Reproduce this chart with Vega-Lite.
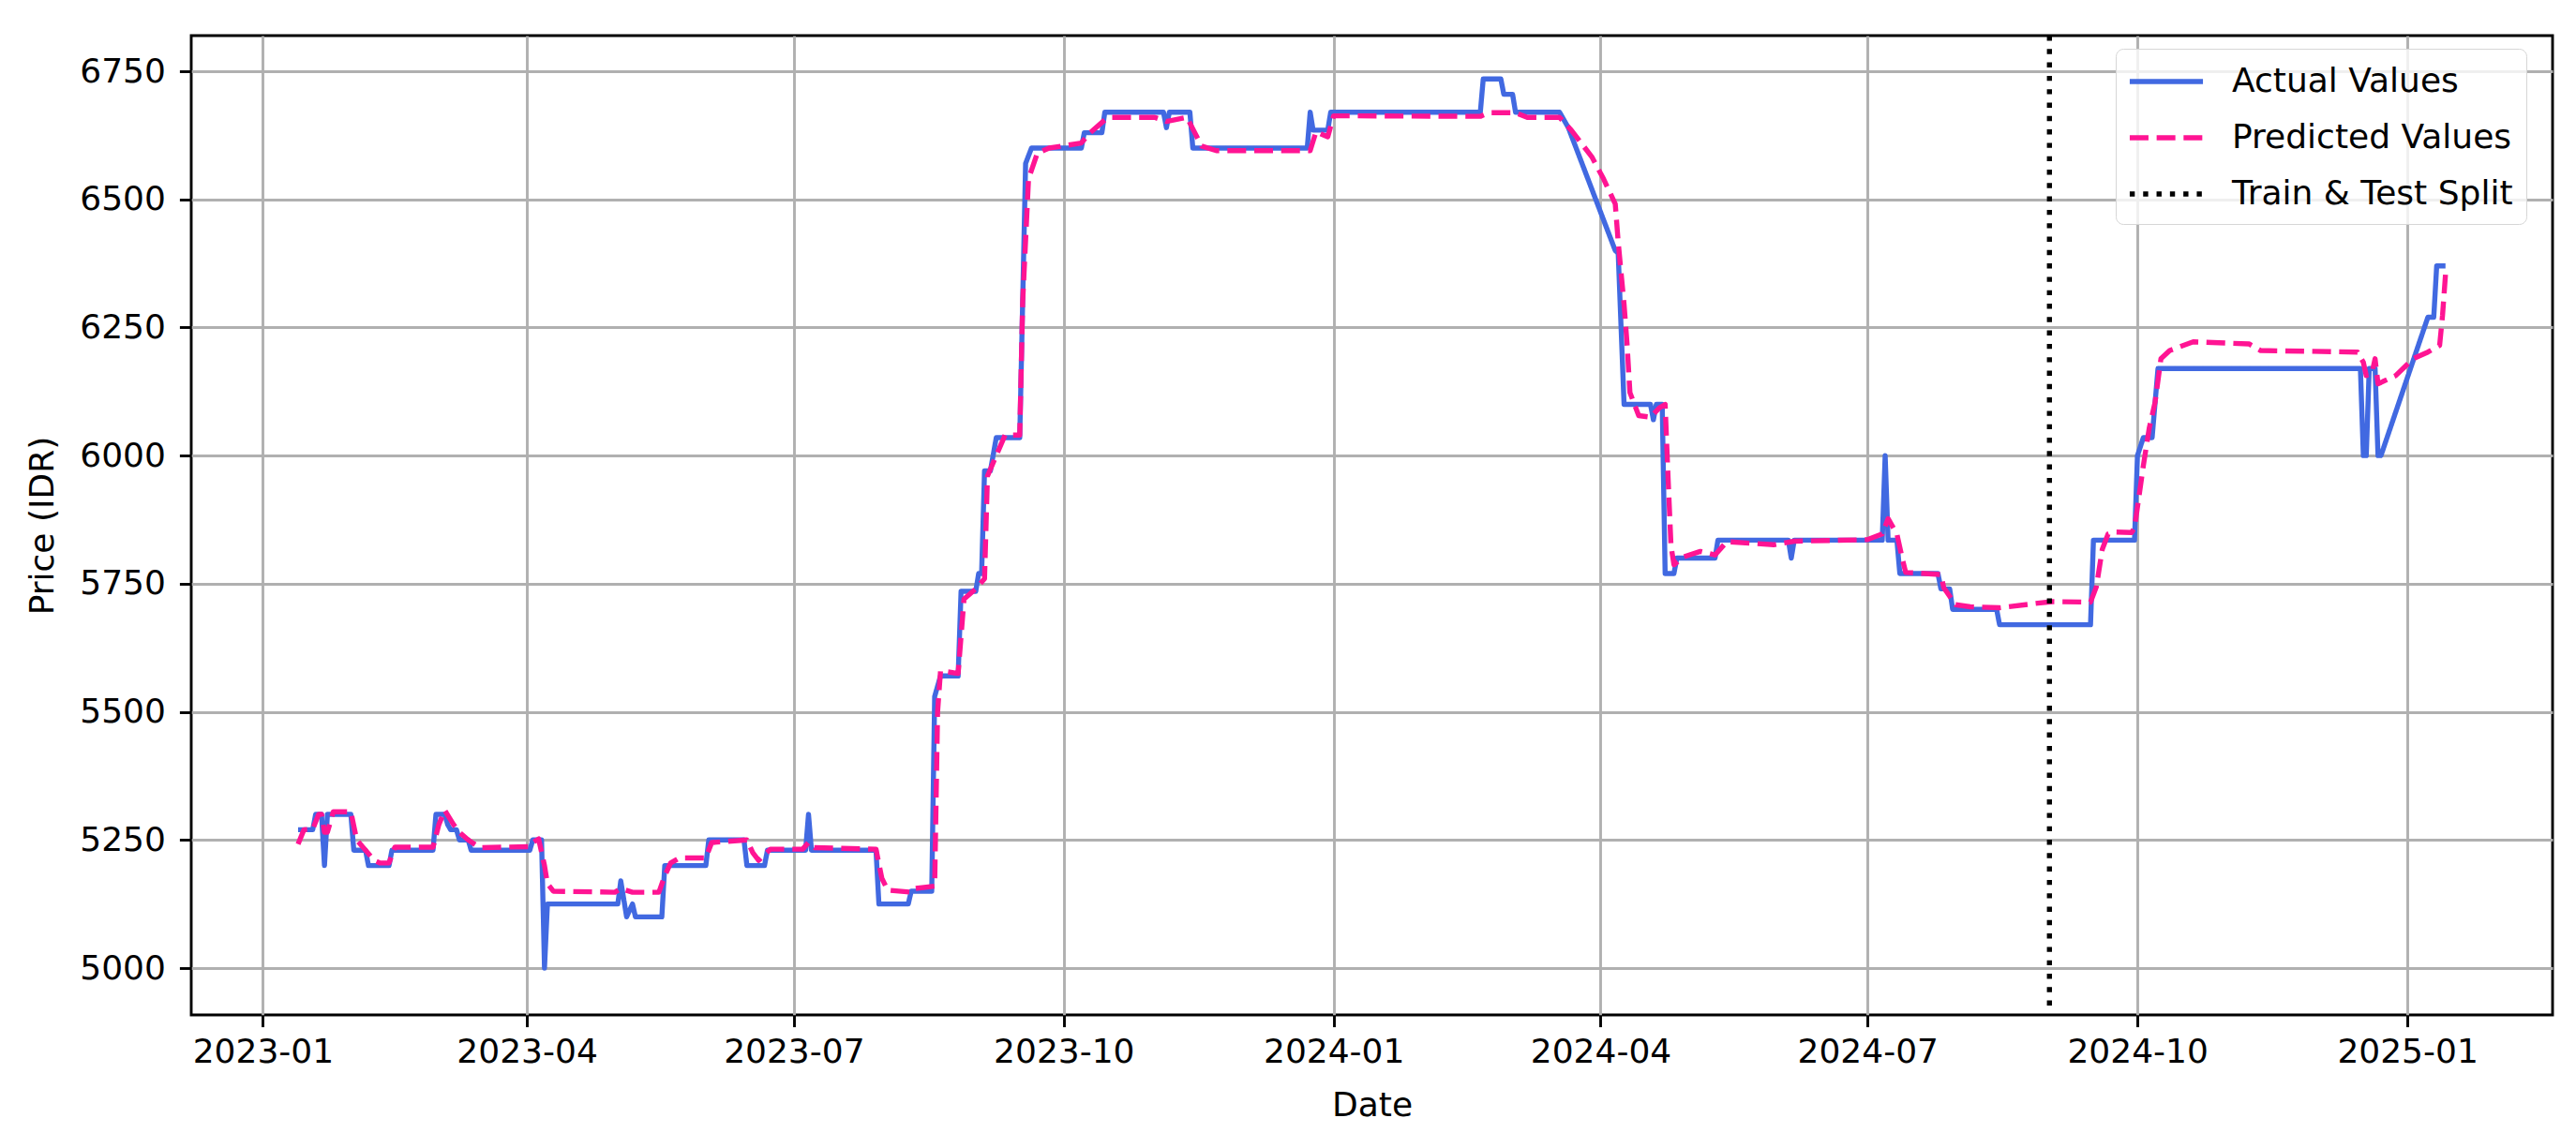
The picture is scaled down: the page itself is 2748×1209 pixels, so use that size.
{
  "$schema": "https://vega.github.io/schema/vega-lite/v6.json",
  "width": 2519,
  "height": 1045,
  "autosize": {"type": "none"},
  "padding": {"left": 204, "top": 38, "right": 25, "bottom": 126},
  "background": "white",
  "config": {
    "font": "DejaVu Sans",
    "view": {"stroke": "black", "strokeWidth": 2.9},
    "axis": {
      "labelFont": "DejaVu Sans", "titleFont": "DejaVu Sans",
      "labelFontSize": 36, "titleFontSize": 36, "titleFontWeight": "normal",
      "labelColor": "black", "titleColor": "black",
      "tickColor": "black", "tickSize": 12.6, "tickWidth": 2.9,
      "labelPadding": 10, "domain": false,
      "grid": true, "gridColor": "#b0b0b0", "gridWidth": 2.9, "gridOpacity": 1
    },
    "legend": {
      "labelFont": "DejaVu Sans", "labelFontSize": 36, "labelColor": "black", "labelLimit": 0
    }
  },
  "data": {"values": [
    {"date": "2023-01-13", "price": 5270, "series": "Actual Values"},
    {"date": "2023-01-18", "price": 5270, "series": "Actual Values"},
    {"date": "2023-01-19", "price": 5300, "series": "Actual Values"},
    {"date": "2023-01-21", "price": 5300, "series": "Actual Values"},
    {"date": "2023-01-22", "price": 5200, "series": "Actual Values"},
    {"date": "2023-01-23", "price": 5300, "series": "Actual Values"},
    {"date": "2023-01-31", "price": 5300, "series": "Actual Values"},
    {"date": "2023-02-01", "price": 5230, "series": "Actual Values"},
    {"date": "2023-02-05", "price": 5230, "series": "Actual Values"},
    {"date": "2023-02-06", "price": 5200, "series": "Actual Values"},
    {"date": "2023-02-13", "price": 5200, "series": "Actual Values"},
    {"date": "2023-02-14", "price": 5230, "series": "Actual Values"},
    {"date": "2023-02-28", "price": 5230, "series": "Actual Values"},
    {"date": "2023-03-01", "price": 5300, "series": "Actual Values"},
    {"date": "2023-03-04", "price": 5300, "series": "Actual Values"},
    {"date": "2023-03-05", "price": 5280, "series": "Actual Values"},
    {"date": "2023-03-06", "price": 5270, "series": "Actual Values"},
    {"date": "2023-03-08", "price": 5270, "series": "Actual Values"},
    {"date": "2023-03-09", "price": 5250, "series": "Actual Values"},
    {"date": "2023-03-12", "price": 5250, "series": "Actual Values"},
    {"date": "2023-03-13", "price": 5230, "series": "Actual Values"},
    {"date": "2023-04-02", "price": 5230, "series": "Actual Values"},
    {"date": "2023-04-03", "price": 5250, "series": "Actual Values"},
    {"date": "2023-04-06", "price": 5250, "series": "Actual Values"},
    {"date": "2023-04-07", "price": 5000, "series": "Actual Values"},
    {"date": "2023-04-08", "price": 5125, "series": "Actual Values"},
    {"date": "2023-05-02", "price": 5125, "series": "Actual Values"},
    {"date": "2023-05-03", "price": 5170, "series": "Actual Values"},
    {"date": "2023-05-05", "price": 5100, "series": "Actual Values"},
    {"date": "2023-05-07", "price": 5125, "series": "Actual Values"},
    {"date": "2023-05-08", "price": 5100, "series": "Actual Values"},
    {"date": "2023-05-17", "price": 5100, "series": "Actual Values"},
    {"date": "2023-05-18", "price": 5200, "series": "Actual Values"},
    {"date": "2023-06-01", "price": 5200, "series": "Actual Values"},
    {"date": "2023-06-02", "price": 5250, "series": "Actual Values"},
    {"date": "2023-06-14", "price": 5250, "series": "Actual Values"},
    {"date": "2023-06-15", "price": 5200, "series": "Actual Values"},
    {"date": "2023-06-21", "price": 5200, "series": "Actual Values"},
    {"date": "2023-06-22", "price": 5230, "series": "Actual Values"},
    {"date": "2023-07-05", "price": 5230, "series": "Actual Values"},
    {"date": "2023-07-06", "price": 5300, "series": "Actual Values"},
    {"date": "2023-07-07", "price": 5230, "series": "Actual Values"},
    {"date": "2023-07-29", "price": 5230, "series": "Actual Values"},
    {"date": "2023-07-30", "price": 5125, "series": "Actual Values"},
    {"date": "2023-08-09", "price": 5125, "series": "Actual Values"},
    {"date": "2023-08-10", "price": 5150, "series": "Actual Values"},
    {"date": "2023-08-17", "price": 5150, "series": "Actual Values"},
    {"date": "2023-08-18", "price": 5530, "series": "Actual Values"},
    {"date": "2023-08-20", "price": 5570, "series": "Actual Values"},
    {"date": "2023-08-26", "price": 5570, "series": "Actual Values"},
    {"date": "2023-08-27", "price": 5735, "series": "Actual Values"},
    {"date": "2023-09-01", "price": 5735, "series": "Actual Values"},
    {"date": "2023-09-02", "price": 5770, "series": "Actual Values"},
    {"date": "2023-09-03", "price": 5770, "series": "Actual Values"},
    {"date": "2023-09-04", "price": 5970, "series": "Actual Values"},
    {"date": "2023-09-06", "price": 5970, "series": "Actual Values"},
    {"date": "2023-09-08", "price": 6035, "series": "Actual Values"},
    {"date": "2023-09-16", "price": 6035, "series": "Actual Values"},
    {"date": "2023-09-17", "price": 6300, "series": "Actual Values"},
    {"date": "2023-09-18", "price": 6570, "series": "Actual Values"},
    {"date": "2023-09-20", "price": 6600, "series": "Actual Values"},
    {"date": "2023-10-07", "price": 6600, "series": "Actual Values"},
    {"date": "2023-10-08", "price": 6630, "series": "Actual Values"},
    {"date": "2023-10-14", "price": 6630, "series": "Actual Values"},
    {"date": "2023-10-15", "price": 6670, "series": "Actual Values"},
    {"date": "2023-11-04", "price": 6670, "series": "Actual Values"},
    {"date": "2023-11-05", "price": 6640, "series": "Actual Values"},
    {"date": "2023-11-06", "price": 6670, "series": "Actual Values"},
    {"date": "2023-11-13", "price": 6670, "series": "Actual Values"},
    {"date": "2023-11-14", "price": 6600, "series": "Actual Values"},
    {"date": "2023-12-23", "price": 6600, "series": "Actual Values"},
    {"date": "2023-12-24", "price": 6670, "series": "Actual Values"},
    {"date": "2023-12-25", "price": 6635, "series": "Actual Values"},
    {"date": "2023-12-30", "price": 6635, "series": "Actual Values"},
    {"date": "2023-12-31", "price": 6670, "series": "Actual Values"},
    {"date": "2024-02-20", "price": 6670, "series": "Actual Values"},
    {"date": "2024-02-21", "price": 6735, "series": "Actual Values"},
    {"date": "2024-02-27", "price": 6735, "series": "Actual Values"},
    {"date": "2024-02-28", "price": 6705, "series": "Actual Values"},
    {"date": "2024-03-02", "price": 6705, "series": "Actual Values"},
    {"date": "2024-03-03", "price": 6670, "series": "Actual Values"},
    {"date": "2024-03-18", "price": 6670, "series": "Actual Values"},
    {"date": "2024-03-21", "price": 6640, "series": "Actual Values"},
    {"date": "2024-04-06", "price": 6400, "series": "Actual Values"},
    {"date": "2024-04-07", "price": 6395, "series": "Actual Values"},
    {"date": "2024-04-09", "price": 6100, "series": "Actual Values"},
    {"date": "2024-04-18", "price": 6100, "series": "Actual Values"},
    {"date": "2024-04-19", "price": 6070, "series": "Actual Values"},
    {"date": "2024-04-20", "price": 6100, "series": "Actual Values"},
    {"date": "2024-04-22", "price": 6100, "series": "Actual Values"},
    {"date": "2024-04-23", "price": 5770, "series": "Actual Values"},
    {"date": "2024-04-26", "price": 5770, "series": "Actual Values"},
    {"date": "2024-04-27", "price": 5800, "series": "Actual Values"},
    {"date": "2024-05-10", "price": 5800, "series": "Actual Values"},
    {"date": "2024-05-11", "price": 5835, "series": "Actual Values"},
    {"date": "2024-06-04", "price": 5835, "series": "Actual Values"},
    {"date": "2024-06-05", "price": 5800, "series": "Actual Values"},
    {"date": "2024-06-06", "price": 5835, "series": "Actual Values"},
    {"date": "2024-07-06", "price": 5835, "series": "Actual Values"},
    {"date": "2024-07-07", "price": 6000, "series": "Actual Values"},
    {"date": "2024-07-08", "price": 5835, "series": "Actual Values"},
    {"date": "2024-07-11", "price": 5835, "series": "Actual Values"},
    {"date": "2024-07-12", "price": 5770, "series": "Actual Values"},
    {"date": "2024-07-25", "price": 5770, "series": "Actual Values"},
    {"date": "2024-07-26", "price": 5740, "series": "Actual Values"},
    {"date": "2024-07-29", "price": 5740, "series": "Actual Values"},
    {"date": "2024-07-30", "price": 5700, "series": "Actual Values"},
    {"date": "2024-08-14", "price": 5700, "series": "Actual Values"},
    {"date": "2024-08-15", "price": 5670, "series": "Actual Values"},
    {"date": "2024-09-15", "price": 5670, "series": "Actual Values"},
    {"date": "2024-09-16", "price": 5835, "series": "Actual Values"},
    {"date": "2024-09-30", "price": 5835, "series": "Actual Values"},
    {"date": "2024-10-01", "price": 6000, "series": "Actual Values"},
    {"date": "2024-10-03", "price": 6035, "series": "Actual Values"},
    {"date": "2024-10-06", "price": 6035, "series": "Actual Values"},
    {"date": "2024-10-08", "price": 6170, "series": "Actual Values"},
    {"date": "2024-12-16", "price": 6170, "series": "Actual Values"},
    {"date": "2024-12-17", "price": 6000, "series": "Actual Values"},
    {"date": "2024-12-18", "price": 6000, "series": "Actual Values"},
    {"date": "2024-12-19", "price": 6170, "series": "Actual Values"},
    {"date": "2024-12-21", "price": 6170, "series": "Actual Values"},
    {"date": "2024-12-22", "price": 6000, "series": "Actual Values"},
    {"date": "2024-12-23", "price": 6000, "series": "Actual Values"},
    {"date": "2025-01-08", "price": 6270, "series": "Actual Values"},
    {"date": "2025-01-10", "price": 6270, "series": "Actual Values"},
    {"date": "2025-01-11", "price": 6370, "series": "Actual Values"},
    {"date": "2025-01-14", "price": 6370, "series": "Actual Values"},

    {"date": "2023-01-13", "price": 5242, "series": "Predicted Values"},
    {"date": "2023-01-15", "price": 5270, "series": "Predicted Values"},
    {"date": "2023-01-18", "price": 5271, "series": "Predicted Values"},
    {"date": "2023-01-20", "price": 5300, "series": "Predicted Values"},
    {"date": "2023-01-21", "price": 5300, "series": "Predicted Values"},
    {"date": "2023-01-22", "price": 5265, "series": "Predicted Values"},
    {"date": "2023-01-23", "price": 5265, "series": "Predicted Values"},
    {"date": "2023-01-25", "price": 5305, "series": "Predicted Values"},
    {"date": "2023-01-31", "price": 5305, "series": "Predicted Values"},
    {"date": "2023-02-02", "price": 5250, "series": "Predicted Values"},
    {"date": "2023-02-05", "price": 5230, "series": "Predicted Values"},
    {"date": "2023-02-08", "price": 5210, "series": "Predicted Values"},
    {"date": "2023-02-10", "price": 5205, "series": "Predicted Values"},
    {"date": "2023-02-13", "price": 5205, "series": "Predicted Values"},
    {"date": "2023-02-15", "price": 5236, "series": "Predicted Values"},
    {"date": "2023-02-28", "price": 5236, "series": "Predicted Values"},
    {"date": "2023-03-02", "price": 5280, "series": "Predicted Values"},
    {"date": "2023-03-04", "price": 5308, "series": "Predicted Values"},
    {"date": "2023-03-07", "price": 5280, "series": "Predicted Values"},
    {"date": "2023-03-09", "price": 5265, "series": "Predicted Values"},
    {"date": "2023-03-12", "price": 5250, "series": "Predicted Values"},
    {"date": "2023-03-16", "price": 5235, "series": "Predicted Values"},
    {"date": "2023-04-02", "price": 5237, "series": "Predicted Values"},
    {"date": "2023-04-03", "price": 5245, "series": "Predicted Values"},
    {"date": "2023-04-05", "price": 5252, "series": "Predicted Values"},
    {"date": "2023-04-07", "price": 5200, "series": "Predicted Values"},
    {"date": "2023-04-08", "price": 5165, "series": "Predicted Values"},
    {"date": "2023-04-10", "price": 5150, "series": "Predicted Values"},
    {"date": "2023-05-01", "price": 5148, "series": "Predicted Values"},
    {"date": "2023-05-03", "price": 5155, "series": "Predicted Values"},
    {"date": "2023-05-07", "price": 5148, "series": "Predicted Values"},
    {"date": "2023-05-16", "price": 5148, "series": "Predicted Values"},
    {"date": "2023-05-18", "price": 5180, "series": "Predicted Values"},
    {"date": "2023-05-20", "price": 5205, "series": "Predicted Values"},
    {"date": "2023-05-23", "price": 5215, "series": "Predicted Values"},
    {"date": "2023-06-01", "price": 5215, "series": "Predicted Values"},
    {"date": "2023-06-03", "price": 5245, "series": "Predicted Values"},
    {"date": "2023-06-15", "price": 5250, "series": "Predicted Values"},
    {"date": "2023-06-17", "price": 5225, "series": "Predicted Values"},
    {"date": "2023-06-19", "price": 5210, "series": "Predicted Values"},
    {"date": "2023-06-23", "price": 5232, "series": "Predicted Values"},
    {"date": "2023-07-04", "price": 5232, "series": "Predicted Values"},
    {"date": "2023-07-06", "price": 5245, "series": "Predicted Values"},
    {"date": "2023-07-08", "price": 5235, "series": "Predicted Values"},
    {"date": "2023-07-29", "price": 5232, "series": "Predicted Values"},
    {"date": "2023-07-31", "price": 5175, "series": "Predicted Values"},
    {"date": "2023-08-02", "price": 5152, "series": "Predicted Values"},
    {"date": "2023-08-10", "price": 5148, "series": "Predicted Values"},
    {"date": "2023-08-11", "price": 5155, "series": "Predicted Values"},
    {"date": "2023-08-18", "price": 5160, "series": "Predicted Values"},
    {"date": "2023-08-19", "price": 5500, "series": "Predicted Values"},
    {"date": "2023-08-20", "price": 5580, "series": "Predicted Values"},
    {"date": "2023-08-26", "price": 5575, "series": "Predicted Values"},
    {"date": "2023-08-28", "price": 5720, "series": "Predicted Values"},
    {"date": "2023-09-01", "price": 5740, "series": "Predicted Values"},
    {"date": "2023-09-04", "price": 5760, "series": "Predicted Values"},
    {"date": "2023-09-05", "price": 5960, "series": "Predicted Values"},
    {"date": "2023-09-08", "price": 6000, "series": "Predicted Values"},
    {"date": "2023-09-11", "price": 6040, "series": "Predicted Values"},
    {"date": "2023-09-16", "price": 6040, "series": "Predicted Values"},
    {"date": "2023-09-17", "price": 6300, "series": "Predicted Values"},
    {"date": "2023-09-19", "price": 6540, "series": "Predicted Values"},
    {"date": "2023-09-22", "price": 6590, "series": "Predicted Values"},
    {"date": "2023-09-26", "price": 6600, "series": "Predicted Values"},
    {"date": "2023-10-07", "price": 6610, "series": "Predicted Values"},
    {"date": "2023-10-10", "price": 6630, "series": "Predicted Values"},
    {"date": "2023-10-15", "price": 6655, "series": "Predicted Values"},
    {"date": "2023-10-17", "price": 6660, "series": "Predicted Values"},
    {"date": "2023-11-01", "price": 6660, "series": "Predicted Values"},
    {"date": "2023-11-05", "price": 6652, "series": "Predicted Values"},
    {"date": "2023-11-12", "price": 6660, "series": "Predicted Values"},
    {"date": "2023-11-17", "price": 6604, "series": "Predicted Values"},
    {"date": "2023-11-22", "price": 6595, "series": "Predicted Values"},
    {"date": "2023-12-24", "price": 6595, "series": "Predicted Values"},
    {"date": "2023-12-26", "price": 6632, "series": "Predicted Values"},
    {"date": "2023-12-30", "price": 6622, "series": "Predicted Values"},
    {"date": "2024-01-01", "price": 6663, "series": "Predicted Values"},
    {"date": "2024-02-20", "price": 6662, "series": "Predicted Values"},
    {"date": "2024-02-23", "price": 6669, "series": "Predicted Values"},
    {"date": "2024-03-03", "price": 6669, "series": "Predicted Values"},
    {"date": "2024-03-07", "price": 6660, "series": "Predicted Values"},
    {"date": "2024-03-18", "price": 6660, "series": "Predicted Values"},
    {"date": "2024-03-22", "price": 6635, "series": "Predicted Values"},
    {"date": "2024-03-29", "price": 6583, "series": "Predicted Values"},
    {"date": "2024-04-02", "price": 6540, "series": "Predicted Values"},
    {"date": "2024-04-06", "price": 6491, "series": "Predicted Values"},
    {"date": "2024-04-07", "price": 6417, "series": "Predicted Values"},
    {"date": "2024-04-09", "price": 6295, "series": "Predicted Values"},
    {"date": "2024-04-10", "price": 6220, "series": "Predicted Values"},
    {"date": "2024-04-11", "price": 6123, "series": "Predicted Values"},
    {"date": "2024-04-14", "price": 6078, "series": "Predicted Values"},
    {"date": "2024-04-18", "price": 6075, "series": "Predicted Values"},
    {"date": "2024-04-21", "price": 6093, "series": "Predicted Values"},
    {"date": "2024-04-23", "price": 6100, "series": "Predicted Values"},
    {"date": "2024-04-24", "price": 5957, "series": "Predicted Values"},
    {"date": "2024-04-25", "price": 5824, "series": "Predicted Values"},
    {"date": "2024-04-26", "price": 5787, "series": "Predicted Values"},
    {"date": "2024-04-29", "price": 5802, "series": "Predicted Values"},
    {"date": "2024-05-05", "price": 5813, "series": "Predicted Values"},
    {"date": "2024-05-10", "price": 5806, "series": "Predicted Values"},
    {"date": "2024-05-14", "price": 5832, "series": "Predicted Values"},
    {"date": "2024-05-30", "price": 5826, "series": "Predicted Values"},
    {"date": "2024-06-06", "price": 5833, "series": "Predicted Values"},
    {"date": "2024-07-01", "price": 5836, "series": "Predicted Values"},
    {"date": "2024-07-06", "price": 5847, "series": "Predicted Values"},
    {"date": "2024-07-08", "price": 5877, "series": "Predicted Values"},
    {"date": "2024-07-11", "price": 5847, "series": "Predicted Values"},
    {"date": "2024-07-13", "price": 5795, "series": "Predicted Values"},
    {"date": "2024-07-14", "price": 5772, "series": "Predicted Values"},
    {"date": "2024-07-26", "price": 5768, "series": "Predicted Values"},
    {"date": "2024-07-27", "price": 5742, "series": "Predicted Values"},
    {"date": "2024-07-31", "price": 5709, "series": "Predicted Values"},
    {"date": "2024-08-05", "price": 5705, "series": "Predicted Values"},
    {"date": "2024-08-15", "price": 5703, "series": "Predicted Values"},
    {"date": "2024-08-28", "price": 5712, "series": "Predicted Values"},
    {"date": "2024-09-02", "price": 5715, "series": "Predicted Values"},
    {"date": "2024-09-15", "price": 5714, "series": "Predicted Values"},
    {"date": "2024-09-17", "price": 5744, "series": "Predicted Values"},
    {"date": "2024-09-19", "price": 5817, "series": "Predicted Values"},
    {"date": "2024-09-21", "price": 5847, "series": "Predicted Values"},
    {"date": "2024-09-23", "price": 5851, "series": "Predicted Values"},
    {"date": "2024-09-29", "price": 5850, "series": "Predicted Values"},
    {"date": "2024-09-30", "price": 5859, "series": "Predicted Values"},
    {"date": "2024-10-03", "price": 5980, "series": "Predicted Values"},
    {"date": "2024-10-05", "price": 6053, "series": "Predicted Values"},
    {"date": "2024-10-07", "price": 6104, "series": "Predicted Values"},
    {"date": "2024-10-09", "price": 6189, "series": "Predicted Values"},
    {"date": "2024-10-12", "price": 6205, "series": "Predicted Values"},
    {"date": "2024-10-20", "price": 6222, "series": "Predicted Values"},
    {"date": "2024-11-08", "price": 6218, "series": "Predicted Values"},
    {"date": "2024-11-12", "price": 6205, "series": "Predicted Values"},
    {"date": "2024-12-15", "price": 6202, "series": "Predicted Values"},
    {"date": "2024-12-17", "price": 6182, "series": "Predicted Values"},
    {"date": "2024-12-18", "price": 6156, "series": "Predicted Values"},
    {"date": "2024-12-20", "price": 6163, "series": "Predicted Values"},
    {"date": "2024-12-21", "price": 6189, "series": "Predicted Values"},
    {"date": "2024-12-22", "price": 6140, "series": "Predicted Values"},
    {"date": "2024-12-28", "price": 6156, "series": "Predicted Values"},
    {"date": "2025-01-03", "price": 6189, "series": "Predicted Values"},
    {"date": "2025-01-08", "price": 6202, "series": "Predicted Values"},
    {"date": "2025-01-12", "price": 6215, "series": "Predicted Values"},
    {"date": "2025-01-13", "price": 6274, "series": "Predicted Values"},
    {"date": "2025-01-14", "price": 6353, "series": "Predicted Values"}
  ]},
  "encoding": {
    "x": {
      "field": "date", "type": "temporal", "title": "Date",
      "scale": {"type": "utc", "domain": [
        {"year": 2022, "month": 12, "date": 7, "hours": 14, "utc": true},
        {"year": 2025, "month": 2, "date": 19, "hours": 12, "utc": true}
      ]},
      "axis": {
        "values": [
          {"year": 2023, "month": 1, "date": 1, "utc": true},
          {"year": 2023, "month": 4, "date": 1, "utc": true},
          {"year": 2023, "month": 7, "date": 1, "utc": true},
          {"year": 2023, "month": 10, "date": 1, "utc": true},
          {"year": 2024, "month": 1, "date": 1, "utc": true},
          {"year": 2024, "month": 4, "date": 1, "utc": true},
          {"year": 2024, "month": 7, "date": 1, "utc": true},
          {"year": 2024, "month": 10, "date": 1, "utc": true},
          {"year": 2025, "month": 1, "date": 1, "utc": true}
        ],
        "labelExpr": "utcFormat(datum.value, '%Y-%m')",
        "titlePadding": 22
      }
    },
    "y": {
      "field": "price", "type": "quantitative", "title": "Price (IDR)",
      "scale": {"domain": [4908.6, 6819.5], "zero": false, "nice": false},
      "axis": {"values": [5000, 5250, 5500, 5750, 6000, 6250, 6500, 6750], "format": "d", "labelPadding": 15, "titlePadding": 20}
    }
  },
  "layer": [
    {
      "transform": [{"filter": "datum.series == 'Actual Values'"}],
      "mark": {"type": "line", "strokeWidth": 5.4, "strokeJoin": "round", "strokeCap": "butt"},
      "encoding": {
        "color": {"field": "series", "type": "nominal",
          "scale": {"domain": ["Actual Values", "Predicted Values", "Train & Test Split"], "range": ["#4169e1", "#ff1493", "#000000"]},
          "legend": {
            "title": null, "orient": "none", "legendX": 2053, "legendY": 14,
            "symbolType": "M-2.17,0H2.17", "symbolSize": 1296, "symbolStrokeWidth": 5.4,
            "symbolOffset": 19, "labelOffset": 49, "rowPadding": 21, "padding": 14,
            "strokeColor": "#d6d6d6", "fillColor": "rgba(255,255,255,0.8)", "cornerRadius": 8,
            "labelFontSize": 36, "labelLimit": 0
          }
        },
        "strokeDash": {"field": "series", "type": "nominal",
          "scale": {"domain": ["Actual Values", "Predicted Values", "Train & Test Split"], "range": [[1, 0], [20, 8.7], [5.4, 8.9]]},
          "legend": null
        }
      }
    },
    {
      "transform": [{"filter": "datum.series == 'Predicted Values'"}],
      "mark": {"type": "line", "strokeWidth": 5.4, "strokeJoin": "round", "strokeCap": "butt"},
      "encoding": {
        "color": {"field": "series", "type": "nominal"},
        "strokeDash": {"field": "series", "type": "nominal"}
      }
    },
    {
      "data": {"values": [{"split": "2024-09-01", "label": "Train & Test Split"}]},
      "mark": {"type": "rule", "strokeWidth": 5.4, "strokeCap": "butt"},
      "encoding": {
        "x": {"field": "split", "type": "temporal"},
        "y": null,
        "color": {"field": "label", "type": "nominal"},
        "strokeDash": {"field": "label", "type": "nominal"}
      }
    }
  ]
}
